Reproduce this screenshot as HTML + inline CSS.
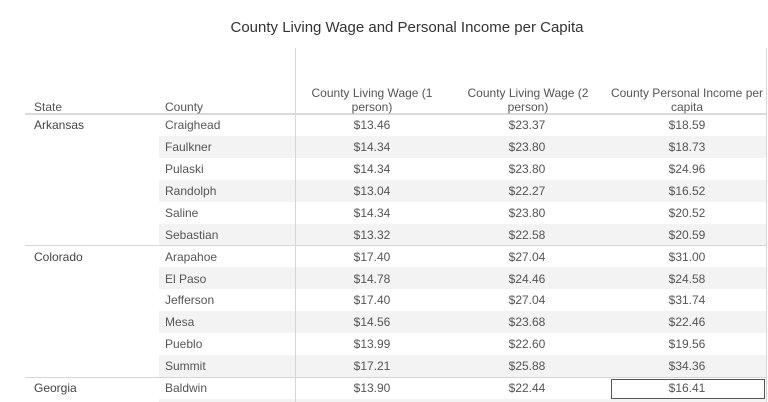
<!DOCTYPE html>
<html><head><meta charset="utf-8">
<style>
html,body{margin:0;padding:0;background:#fff;width:768px;height:402px;overflow:hidden;}
body{position:relative;font-family:"Liberation Sans",sans-serif;}
.t{position:absolute;white-space:nowrap;font-size:12px;color:#555;line-height:14px;}
.c{text-align:center;}
.title{position:absolute;left:0;width:814px;top:19px;text-align:center;font-size:15px;color:#333;line-height:18px;}
.shade{position:absolute;left:159px;width:607px;height:22px;background:#f3f3f3;}
.hl{position:absolute;height:1px;background:#d6d6d6;}
.vl{position:absolute;width:1px;background:#d6d6d6;}
</style></head><body>
<div class="title">County Living Wage and Personal Income per Capita</div>

<div class="shade" style="top:136px"></div>
<div class="shade" style="top:180px"></div>
<div class="shade" style="top:224px"></div>
<div class="shade" style="top:267px"></div>
<div class="shade" style="top:311px"></div>
<div class="shade" style="top:355px"></div>
<div class="shade" style="top:399px;height:3px"></div>

<div class="vl" style="left:295px;top:48px;height:354px"></div>
<div class="vl" style="left:766px;top:48px;height:354px"></div>
<div class="hl" style="left:25px;width:742px;top:113px;height:2px;background:#dadada"></div>
<div class="hl" style="left:25px;width:742px;top:245px"></div>
<div class="hl" style="left:25px;width:742px;top:377px"></div>

<div class="t" style="left:34px;top:100px">State</div>
<div class="t" style="left:165px;top:100px">County</div>
<div class="t c" style="left:296px;width:152px;top:86px">County Living Wage (1<br>person)</div>
<div class="t c" style="left:452px;width:152px;top:86px">County Living Wage (2<br>person)</div>
<div class="t c" style="left:608px;width:158px;top:86px">County Personal Income per<br>capita</div>

<div class="t" style="left:34px;top:118px;color:#444">Arkansas</div>
<div class="t" style="left:34px;top:250px;color:#444">Colorado</div>
<div class="t" style="left:34px;top:381px;color:#444">Georgia</div>

<div class="t" style="left:165px;top:118px">Craighead</div>
<div class="t" style="left:165px;top:140px">Faulkner</div>
<div class="t" style="left:165px;top:162px">Pulaski</div>
<div class="t" style="left:165px;top:184px">Randolph</div>
<div class="t" style="left:165px;top:206px">Saline</div>
<div class="t" style="left:165px;top:228px">Sebastian</div>
<div class="t" style="left:165px;top:250px">Arapahoe</div>
<div class="t" style="left:165px;top:272px">El Paso</div>
<div class="t" style="left:165px;top:293px">Jefferson</div>
<div class="t" style="left:165px;top:315px">Mesa</div>
<div class="t" style="left:165px;top:337px">Pueblo</div>
<div class="t" style="left:165px;top:359px">Summit</div>
<div class="t" style="left:165px;top:381px">Baldwin</div>

<div class="t c" style="left:322px;width:100px;top:118px">$13.46</div>
<div class="t c" style="left:322px;width:100px;top:140px">$14.34</div>
<div class="t c" style="left:322px;width:100px;top:162px">$14.34</div>
<div class="t c" style="left:322px;width:100px;top:184px">$13.04</div>
<div class="t c" style="left:322px;width:100px;top:206px">$14.34</div>
<div class="t c" style="left:322px;width:100px;top:228px">$13.32</div>
<div class="t c" style="left:322px;width:100px;top:250px">$17.40</div>
<div class="t c" style="left:322px;width:100px;top:272px">$14.78</div>
<div class="t c" style="left:322px;width:100px;top:293px">$17.40</div>
<div class="t c" style="left:322px;width:100px;top:315px">$14.56</div>
<div class="t c" style="left:322px;width:100px;top:337px">$13.99</div>
<div class="t c" style="left:322px;width:100px;top:359px">$17.21</div>
<div class="t c" style="left:322px;width:100px;top:381px">$13.90</div>

<div class="t c" style="left:477px;width:100px;top:118px">$23.37</div>
<div class="t c" style="left:477px;width:100px;top:140px">$23.80</div>
<div class="t c" style="left:477px;width:100px;top:162px">$23.80</div>
<div class="t c" style="left:477px;width:100px;top:184px">$22.27</div>
<div class="t c" style="left:477px;width:100px;top:206px">$23.80</div>
<div class="t c" style="left:477px;width:100px;top:228px">$22.58</div>
<div class="t c" style="left:477px;width:100px;top:250px">$27.04</div>
<div class="t c" style="left:477px;width:100px;top:272px">$24.46</div>
<div class="t c" style="left:477px;width:100px;top:293px">$27.04</div>
<div class="t c" style="left:477px;width:100px;top:315px">$23.68</div>
<div class="t c" style="left:477px;width:100px;top:337px">$22.60</div>
<div class="t c" style="left:477px;width:100px;top:359px">$25.88</div>
<div class="t c" style="left:477px;width:100px;top:381px">$22.44</div>

<div class="t c" style="left:637px;width:100px;top:118px">$18.59</div>
<div class="t c" style="left:637px;width:100px;top:140px">$18.73</div>
<div class="t c" style="left:637px;width:100px;top:162px">$24.96</div>
<div class="t c" style="left:637px;width:100px;top:184px">$16.52</div>
<div class="t c" style="left:637px;width:100px;top:206px">$20.52</div>
<div class="t c" style="left:637px;width:100px;top:228px">$20.59</div>
<div class="t c" style="left:637px;width:100px;top:250px">$31.00</div>
<div class="t c" style="left:637px;width:100px;top:272px">$24.58</div>
<div class="t c" style="left:637px;width:100px;top:293px">$31.74</div>
<div class="t c" style="left:637px;width:100px;top:315px">$22.46</div>
<div class="t c" style="left:637px;width:100px;top:337px">$19.56</div>
<div class="t c" style="left:637px;width:100px;top:359px">$34.36</div>
<div class="t c" style="left:637px;width:100px;top:381px">$16.41</div>

<div style="position:absolute;left:611px;top:379px;width:152px;height:18px;border:1px solid #555;"></div>
</body></html>
